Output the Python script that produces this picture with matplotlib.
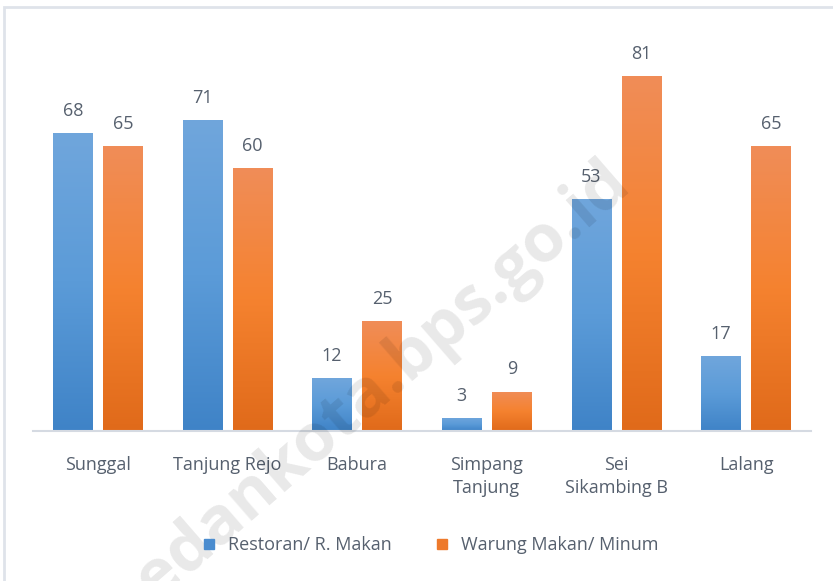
import numpy as np
import matplotlib.pyplot as plt
from matplotlib.colors import LinearSegmentedColormap
from matplotlib.lines import Line2D
from matplotlib.patches import Rectangle

categories = ["Sunggal", "Tanjung Rejo", "Babura", "Simpang\nTanjung", "Sei\nSikambing B", "Lalang"]
restoran = [68, 71, 12, 3, 53, 17]
warung = [65, 60, 25, 9, 81, 65]
series_names = ["Restoran/ R. Makan", "Warung Makan/ Minum"]

plt.rcParams['font.family'] = ['Open Sans', 'DejaVu Sans']
txt_color = "#56606e"

fig = plt.figure(figsize=(8.33, 5.81), dpi=100)
ax = fig.add_axes([33 / 833, 150 / 581, 778 / 833, 394.5 / 581])

x = np.arange(len(categories))
w = 0.308
off = 0.193

blue_cmap = LinearSegmentedColormap.from_list("b", ["#3f83c7", "#5b9bd8", "#70a6dc"])
orange_cmap = LinearSegmentedColormap.from_list("o", ["#e06a1a", "#f5822f", "#f08d58"])
grad = np.linspace(0, 1, 256).reshape(-1, 1)


def gradient_bars(bars, cmap):
    for b in bars:
        x0, y0 = b.get_x(), b.get_y()
        x1, y1 = x0 + b.get_width(), y0 + b.get_height()
        b.set_facecolor("none")
        im = ax.imshow(grad, cmap=cmap, aspect="auto", origin="lower",
                       extent=[x0, x1, y0, y1], zorder=2)
        im.set_clip_path(b)


b1 = ax.bar(x - off, restoran, w, zorder=2, linewidth=0)
b2 = ax.bar(x + off, warung, w, zorder=2, linewidth=0)
gradient_bars(b1, blue_cmap)
gradient_bars(b2, orange_cmap)

for xi, v in zip(x - off, restoran):
    ax.text(xi, v + 3, str(v), ha="center", va="bottom", fontsize=13, color=txt_color)
for xi, v in zip(x + off, warung):
    ax.text(xi, v + 3, str(v), ha="center", va="bottom", fontsize=13, color=txt_color)

ax.set_xlim(-0.5, len(categories) - 0.5)
ax.set_ylim(0, 90)
ax.set_xticks(x)
ax.set_xticklabels(categories, fontsize=13, color=txt_color, linespacing=1.35, va="top")
ax.tick_params(axis="x", length=0, pad=18)
ax.set_yticks([])
for s in ["top", "right", "left"]:
    ax.spines[s].set_visible(False)
ax.spines["bottom"].set_color("#d5dae2")
ax.spines["bottom"].set_linewidth(1.5)

handles = [Line2D([], [], marker="s", linestyle="none", markersize=7, color="#4a8ccf"),
           Line2D([], [], marker="s", linestyle="none", markersize=7, color="#ee7a2c")]
fig.legend(handles, series_names, loc="center", bbox_to_anchor=(0.51, 1 - 545 / 581),
           ncol=2, frameon=False, fontsize=13, handletextpad=0.05, columnspacing=1.8,
           labelcolor=txt_color)

# faint watermark
fig.text(0.43, 0.31, "medankota.bps.go.id", rotation=41, fontsize=48, fontweight="bold",
         color="black", alpha=0.09, ha="center", va="center", rotation_mode="anchor")

# image border
fig.patches.append(Rectangle((4 / 833, -0.1), 1.2, 1 - 7 / 581 + 0.1, transform=fig.transFigure,
                             fill=False, edgecolor="#dfe3ea", linewidth=2))

fig.savefig("out.png", dpi=100)
